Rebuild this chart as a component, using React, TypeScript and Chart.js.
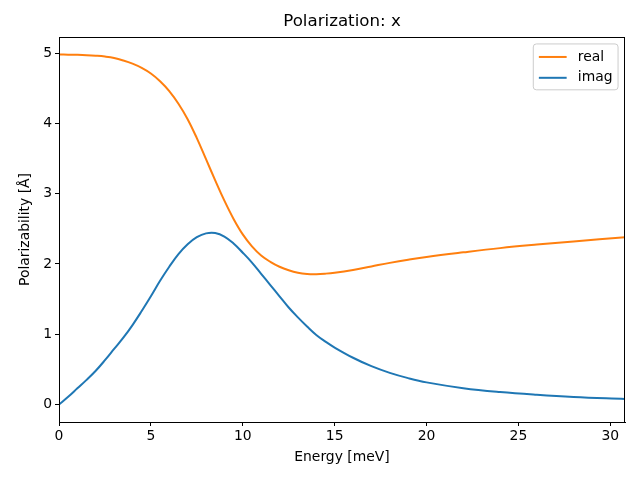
import React, { useEffect, useRef } from "react";
import { Chart, registerables } from "chart.js";

Chart.register(...registerables);

const energy = [0, 0.5, 1, 1.5, 2, 2.5, 3, 3.5, 4, 4.5, 5, 5.5, 6, 6.5, 7, 7.5, 8, 8.5, 9, 9.5, 10, 10.5, 11, 11.5, 12, 12.5, 13, 13.5, 14, 14.5, 15, 16, 17, 18, 19, 20, 22, 24, 26, 28, 30.8];
const realVals = [4.98, 4.978, 4.975, 4.97, 4.962, 4.95, 4.93, 4.895, 4.85, 4.79, 4.71, 4.6, 4.46, 4.28, 4.06, 3.79, 3.49, 3.19, 2.9, 2.64, 2.42, 2.25, 2.12, 2.03, 1.96, 1.91, 1.875, 1.858, 1.855, 1.862, 1.875, 1.915, 1.965, 2.015, 2.06, 2.1, 2.165, 2.225, 2.275, 2.32, 2.38];
const imagVals = [0, 0.11, 0.23, 0.35, 0.48, 0.63, 0.79, 0.95, 1.13, 1.33, 1.54, 1.76, 1.96, 2.14, 2.28, 2.38, 2.435, 2.44, 2.39, 2.29, 2.16, 2.02, 1.86, 1.7, 1.54, 1.38, 1.24, 1.11, 0.99, 0.895, 0.81, 0.665, 0.545, 0.45, 0.375, 0.315, 0.232, 0.177, 0.138, 0.108, 0.08];
const seriesLabels = ["real", "imag"];
const titleText = "Polarization: x";
const xLabel = "Energy [meV]";
const yLabel = "Polarizability [Å]";

const ORANGE = "#ff7f0e";
const BLUE = "#1f77b4";
const FONT = "'DejaVu Sans', sans-serif";
const FS = 13.9;

const framePlugin = {
  id: "frame",
  afterDatasetsDraw(chart: any) {
    const { ctx, chartArea: a } = chart;
    ctx.save();
    ctx.strokeStyle = "#000";
    ctx.lineWidth = 1;
    ctx.strokeRect(Math.round(a.left) + 0.5, Math.round(a.top) + 0.5, Math.round(a.right - a.left) - 1, Math.round(a.bottom - a.top));
    ctx.restore();
  },
};

const titlePlugin = {
  id: "mplTitle",
  afterDraw(chart: any) {
    const { ctx, chartArea: a } = chart;
    ctx.save();
    ctx.font = `16.67px ${FONT}`;
    ctx.fillStyle = "#000";
    ctx.textAlign = "center";
    ctx.textBaseline = "middle";
    ctx.fillText(titleText, (a.left + a.right) / 2, 22);
    ctx.restore();
  },
};

const legendPlugin = {
  id: "mplLegend",
  afterDraw(chart: any) {
    const { ctx, chartArea: a } = chart;
    const items = [
      { label: seriesLabels[0], color: ORANGE },
      { label: seriesLabels[1], color: BLUE },
    ];
    ctx.save();
    ctx.font = `${FS}px ${FONT}`;
    const textW = Math.max(...items.map((i) => ctx.measureText(i.label).width));
    const pad = 0.4 * FS, handle = 2 * FS, htp = 0.8 * FS, lsp = 0.5 * FS, axpad = 0.5 * FS;
    const w = pad * 2 + handle + htp + textW;
    const h = pad * 2 + FS * 2 + lsp;
    const right = a.right - axpad;
    const left = right - w;
    const top = a.top + axpad;
    const r = 3;
    ctx.beginPath();
    ctx.moveTo(left + r, top);
    ctx.lineTo(left + w - r, top);
    ctx.quadraticCurveTo(left + w, top, left + w, top + r);
    ctx.lineTo(left + w, top + h - r);
    ctx.quadraticCurveTo(left + w, top + h, left + w - r, top + h);
    ctx.lineTo(left + r, top + h);
    ctx.quadraticCurveTo(left, top + h, left, top + h - r);
    ctx.lineTo(left, top + r);
    ctx.quadraticCurveTo(left, top, left + r, top);
    ctx.closePath();
    ctx.fillStyle = "rgba(255,255,255,0.8)";
    ctx.fill();
    ctx.strokeStyle = "#cccccc";
    ctx.lineWidth = 1;
    ctx.stroke();
    items.forEach((it, i) => {
      const cy = top + pad + FS / 2 + i * (FS + lsp) + 0.5;
      ctx.beginPath();
      ctx.moveTo(left + pad, cy);
      ctx.lineTo(left + pad + handle, cy);
      ctx.strokeStyle = it.color;
      ctx.lineWidth = 2;
      ctx.stroke();
      ctx.fillStyle = "#000";
      ctx.textBaseline = "middle";
      ctx.textAlign = "left";
      ctx.fillText(it.label, left + pad + handle + htp, cy);
    });
    ctx.restore();
  },
};

export default function App() {
  const ref = useRef<HTMLCanvasElement>(null);
  useEffect(() => {
    document.body.style.margin = "0";
    const canvas = ref.current!;
    const chart = new Chart(canvas, {
      type: "line",
      data: {
        datasets: [
          {
            label: seriesLabels[0],
            data: energy.map((x, i) => ({ x, y: realVals[i] })),
            borderColor: ORANGE,
            backgroundColor: ORANGE,
            borderWidth: 2,
            pointRadius: 0,
            tension: 0.4,
          },
          {
            label: seriesLabels[1],
            data: energy.map((x, i) => ({ x, y: imagVals[i] })),
            borderColor: BLUE,
            backgroundColor: BLUE,
            borderWidth: 2,
            pointRadius: 0,
            tension: 0.4,
          },
        ],
      },
      options: {
        responsive: false,
        animation: false,
        layout: { padding: { left: 0, right: 15, top: 37, bottom: 0 } },
        plugins: {
          legend: { display: false },
          tooltip: { enabled: false },
          title: { display: false },
        },
        scales: {
          x: {
            type: "linear",
            min: 0,
            max: 30.8,
            afterFit: (s: any) => { s.height = 58; },
            ticks: { stepSize: 5, includeBounds: false, color: "#000", font: { family: FONT, size: FS }, padding: 2, maxRotation: 0 },
            grid: { display: true, drawOnChartArea: false, drawTicks: true, tickLength: 4, color: "#000", lineWidth: 1 },
            border: { display: true, color: "#000", width: 1 },
            title: { display: true, text: xLabel, color: "#000", font: { family: FONT, size: FS }, padding: { top: 0, bottom: 14.6 } },
          },
          y: {
            type: "linear",
            min: -0.249,
            max: 5.229,
            afterFit: (s: any) => { s.width = 59; },
            ticks: { stepSize: 1, includeBounds: false, color: "#000", font: { family: FONT, size: FS }, padding: 3 },
            grid: { display: true, drawOnChartArea: false, drawTicks: true, tickLength: 4, color: "#000", lineWidth: 1 },
            border: { display: true, color: "#000", width: 1 },
            title: { display: true, text: yLabel, color: "#000", font: { family: FONT, size: FS }, padding: { top: 16.6, bottom: 0 } },
          },
        },
      },
      plugins: [framePlugin, titlePlugin, legendPlugin],
    } as any);
    return () => chart.destroy();
  }, []);
  return (
    <div style={{ width: 640, height: 480 }}>
      <canvas ref={ref} width={640} height={480} />
    </div>
  );
}
